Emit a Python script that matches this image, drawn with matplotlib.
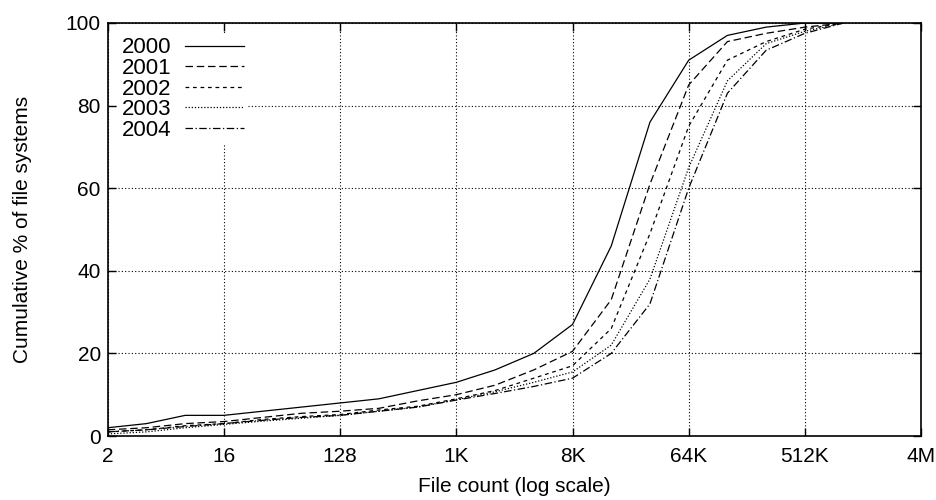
import numpy as np
import matplotlib
matplotlib.use('Agg')
from matplotlib import pyplot as plt

# file counts 2 .. 1M (powers of two)
file_counts = [2, 4, 8, 16, 32, 64, 128, 256, 512, 1024, 2048, 4096, 8192,
               16384, 32768, 65536, 131072, 262144, 524288, 1048576]

y2000 = [2, 3, 5, 5, 6, 7, 8, 9, 11, 13, 16, 20, 27, 46, 76, 91, 97, 99, 100, 100]
y2001 = [1.5, 2, 3, 3.5, 4.5, 5.5, 6, 6.7, 8.5, 10, 12.3, 16, 20.5, 33, 61, 85, 95.5, 97.5, 99, 100]
y2002 = [1, 1.5, 2.5, 3, 4, 4.7, 5.2, 6.3, 7.2, 9, 11, 14, 17, 26, 49, 75, 91, 95.5, 98.5, 100]
y2003 = [0.5, 1, 2, 2.8, 3.6, 4.3, 5, 6, 7, 8.8, 10.7, 13, 15.5, 22, 38, 65, 86, 95, 98, 100]
y2004 = [1, 1.5, 2.3, 3, 3.8, 4.5, 5, 6, 7, 8.7, 10.3, 12, 14, 20, 32, 60, 83, 93.4, 97.5, 100]

years = ['2000', '2001', '2002', '2003', '2004']
styles = ['-', (0, (6, 3)), (0, (3, 3)), (0, (1, 1.5)), (0, (6, 2, 1, 2))]

tick_vals = [2, 16, 128, 1024, 8192, 65536, 524288, 4194304]
tick_labels = ['2', '16', '128', '1K', '8K', '64K', '512K', '4M']

plt.rcParams['font.family'] = ['Liberation Sans', 'DejaVu Sans']

fig = plt.figure(figsize=(9.37, 5.0), dpi=100)
ax = fig.add_axes([0.115, 0.128, 0.868, 0.826])

for label, ys, ls in zip(years, [y2000, y2001, y2002, y2003, y2004], styles):
    ax.plot(file_counts, ys, color='black', linestyle=ls, linewidth=0.9, label=label)

ax.set_xscale('log', base=2)
ax.set_xlim(2, 4194304)
ax.set_ylim(0, 100)
ax.set_xticks(tick_vals)
ax.set_xticklabels(tick_labels)
ax.set_yticks([0, 20, 40, 60, 80, 100])
ax.minorticks_off()
ax.tick_params(direction='in', length=6, width=1, top=True, right=True,
               labelsize=15)
ax.tick_params(axis='x', pad=8)
ax.tick_params(axis='y', pad=5)
ax.grid(True, linestyle=(0, (1, 2)), color='black', linewidth=0.8)
for s in ax.spines.values():
    s.set_linewidth(1.2)

ax.set_xlabel('File count (log scale)', fontsize=15, labelpad=8)
ax.set_ylabel('Cumulative % of file systems', fontsize=15, labelpad=24)

leg = ax.legend(loc='upper left', markerfirst=False, fontsize=16,
                handlelength=2.65, handletextpad=0.6, labelspacing=-0.02,
                borderpad=0.2, borderaxespad=0.45, frameon=True,
                fancybox=False, framealpha=1, edgecolor='none')

fig.savefig('out.png', dpi=100)
